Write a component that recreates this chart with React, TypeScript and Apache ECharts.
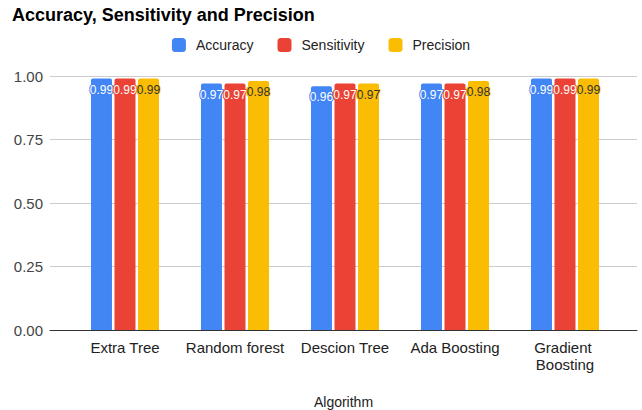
import React, { useEffect, useRef } from "react";
import * as echarts from "echarts";

const categories = ["Extra Tree", "Random forest", "Descion Tree", "Ada Boosting", "Gradient Boosting"];
const accuracy = [0.99, 0.97, 0.96, 0.97, 0.99];
const sensitivity = [0.99, 0.97, 0.97, 0.97, 0.99];
const precision = [0.99, 0.98, 0.97, 0.98, 0.99];
const yTicks = [0, 0.25, 0.5, 0.75, 1.0];

const FONT = "Arial, 'Liberation Sans', sans-serif";

export default function App() {
  const ref = useRef<HTMLDivElement>(null);
  useEffect(() => {
    if (!ref.current) return;
    const chart = echarts.init(ref.current, null, { renderer: "svg" });
    const mk = (name: string, data: number[], color: string, labelColor: string) => ({
      name,
      type: "bar",
      xAxisIndex: 1,
      yAxisIndex: 1,
      data,
      barWidth: 21,
      barGap: "12%",
      itemStyle: { color, borderRadius: [2, 2, 0, 0] },
      label: {
        show: true,
        position: "insideTop",
        distance: 5,
        formatter: (p: any) => Number(p.value).toFixed(2),
        color: labelColor,
        fontFamily: FONT,
        fontSize: 12,
        textBorderColor: color,
        textBorderWidth: 2,
      },
    });
    chart.setOption({
      animation: false,
      backgroundColor: "#ffffff",
      textStyle: { fontFamily: FONT },
      title: {
        text: "Accuracy, Sensitivity and Precision",
        left: 7,
        top: 1,
        textStyle: { fontSize: 18, fontWeight: "bold", color: "#000000", fontFamily: FONT },
      },
      legend: {
        top: 33,
        left: "center",
        icon: "roundRect",
        itemWidth: 14,
        itemHeight: 14,
        itemGap: 24,
        textStyle: { fontSize: 14, color: "#222222", fontFamily: FONT, padding: [0, 0, 0, 5] },
        data: ["Accuracy", "Sensitivity", "Precision"],
      },
      grid: [
        { left: 50, right: 5, top: 76, bottom: 80, containLabel: false, outerBoundsMode: "none" },
        { left: 70, right: 22, top: 76, bottom: 80, containLabel: false, outerBoundsMode: "none" },
      ],
      xAxis: [
        {
          type: "value",
          gridIndex: 0,
          min: 0,
          max: 1,
          axisLabel: { show: false },
          axisTick: { show: false },
          splitLine: { show: false },
          axisLine: { show: true, onZero: false, lineStyle: { color: "#333333", width: 1 } },
          name: "Algorithm",
          nameLocation: "middle",
          nameGap: 65,
          nameTextStyle: { fontSize: 14, color: "#222222", fontFamily: FONT },
        },
        {
          type: "category",
          gridIndex: 1,
          data: categories,
          axisLine: { show: false },
          axisTick: { show: false },
          axisLabel: {
            interval: 0,
            hideOverlap: false,
            fontSize: 15,
            color: "#222222",
            margin: 9,
            width: 102,
            overflow: "break",
            lineHeight: 17,
            fontFamily: FONT,
          },
        },
      ],
      yAxis: [
        {
          type: "value",
          gridIndex: 0,
          min: yTicks[0],
          max: yTicks[yTicks.length - 1],
          interval: 0.25,
          axisLine: { show: false },
          axisTick: { show: false },
          axisLabel: {
            fontSize: 15,
            color: "#444444",
            margin: 7,
            formatter: (v: number) => v.toFixed(2),
            fontFamily: FONT,
          },
          splitLine: { lineStyle: { color: "#cccccc", width: 1 } },
        },
        {
          type: "value",
          gridIndex: 1,
          min: 0,
          max: 1,
          show: false,
          splitLine: { show: false },
        },
      ],
      series: [
        mk("Accuracy", accuracy, "#4285F4", "#ffffff"),
        mk("Sensitivity", sensitivity, "#EA4335", "#ffffff"),
        mk("Precision", precision, "#FBBC04", "#333333"),
      ],
    });
    return () => chart.dispose();
  }, []);
  return (
    <div
      ref={ref}
      style={{ position: "fixed", left: 0, top: 0, width: 642, height: 410, background: "#fff" }}
    />
  );
}
